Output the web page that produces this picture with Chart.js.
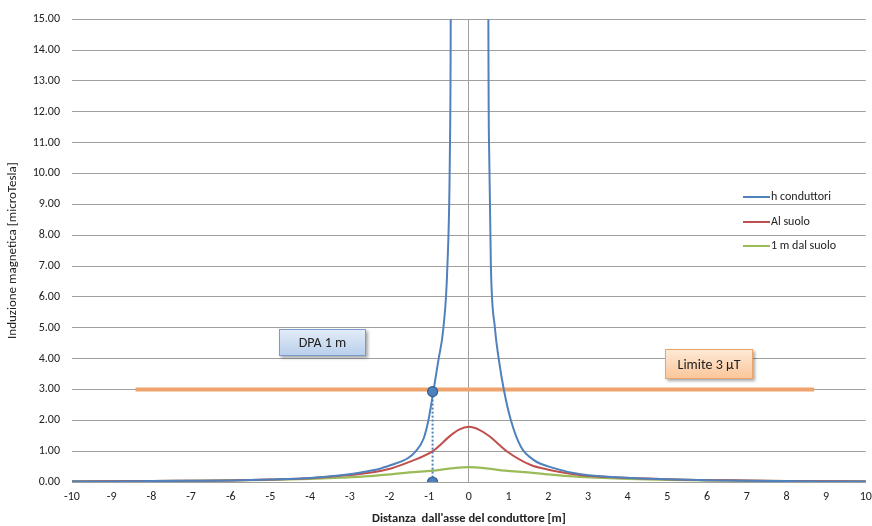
<!DOCTYPE html>
<html>
<head>
<meta charset="utf-8">
<script src="https://cdn.jsdelivr.net/npm/chart.js@4/dist/chart.umd.min.js"></script>
<style>
  html, body { margin:0; padding:0; background:#fff; }
  #wrap { position:relative; width:872px; height:526px; }
  canvas { position:absolute; left:0; top:0; }
  .box { position:absolute; box-sizing:border-box; font-family: Carlito, Lato, "Open Sans", sans-serif; font-size:14px; color:#222; display:flex; align-items:center; justify-content:center; box-shadow: 2px 2px 3px rgba(0,0,0,0.35); }
  #dpa { left:279px; top:329px; width:87px; height:27px; border:1px solid #7A9CCB; background:linear-gradient(#E3ECF8, #B9CFEB); }
  #lim { left:665px; top:349px; width:88px; height:30px; border:1px solid #E9A66A; background:linear-gradient(#FEE9D6, #FBC79A); }
</style>
</head>
<body>
<div id="wrap">
  <canvas id="c" width="872" height="526"></canvas>
  <div class="box" id="dpa">DPA 1 m</div>
  <div class="box" id="lim">Limite 3 µT</div>
</div>
<script>
// ---- data ----
const seriesNames = ["h conduttori", "Al suolo", "1 m dal suolo"];
const xTicks = [-10,-9,-8,-7,-6,-5,-4,-3,-2,-1,0,1,2,3,4,5,6,7,8,9,10];

const hCondX = [-10,-9,-8,-7,-6,-5,-4,-3.22,-2.72,-2.22,-1.965,-1.54,-1.335,-1.14,-1.02,-0.894,-0.768,-0.642,-0.542,-0.479,-0.458,-0.452, 0, 0.488,0.491,0.511,0.554,0.655,0.756,0.882,1.058,1.31,1.637,2.141,2.821,4.081,5,6,7,8,9,10];
const hCondY = [0.02,0.02,0.03,0.04,0.05,0.08,0.13,0.22,0.31,0.44,0.55,0.77,1.0,1.41,2.0,2.95,3.95,5.0,7.0,10.7,15.0,20, null, 20,15.0,10.7,7.0,5.0,3.95,2.98,2.0,1.14,0.71,0.45,0.25,0.13,0.09,0.06,0.04,0.03,0.02,0.02];

const suoloX = [-10,-8,-7,-6,-5,-4,-3.22,-2.5,-1.96,-1.5,-0.91,-0.45,-0.25,0,0.25,0.5,0.97,1.56,2.0,2.4,2.8,3.65,4.5,5,6,7,8,10];
const suoloY = [0.02,0.03,0.04,0.05,0.08,0.12,0.2,0.3,0.44,0.65,1.0,1.52,1.7,1.79,1.7,1.5,0.98,0.55,0.4,0.3,0.23,0.15,0.11,0.09,0.06,0.05,0.03,0.02];

const unoX = [-10,-8,-7,-6,-5,-4,-3.22,-2.5,-1.96,-1.5,-0.91,-0.45,0,0.45,0.91,1.5,1.96,2.5,3.22,4,5,6,7,8,10];
const unoY = [0.02,0.03,0.04,0.05,0.07,0.1,0.14,0.19,0.25,0.31,0.37,0.44,0.48,0.44,0.37,0.31,0.25,0.19,0.14,0.1,0.07,0.05,0.04,0.03,0.02];

const limitX = [-8.4, 8.7];
const limitY = [3, 3];

const dpaX = [-0.915, -0.915];
const dpaY = [2.93, 0];

const yMin = 0, yMax = 15, yStep = 1;

// ---- build ----
const pts = (xs, ys) => xs.map((x,i) => ({x:x, y:ys[i]}));
const FONT = 'Carlito, Lato, "Open Sans", sans-serif';

const colors = ["#4F81BD", "#C0504D", "#9BBB59"];

const legendPlugin = {
  id: 'customLegend',
  afterDraw(chart) {
    const ctx = chart.ctx;
    ctx.save();
    ctx.font = '12px ' + FONT;
    ctx.textBaseline = 'middle';
    ctx.fillStyle = '#222';
    const ys = [197, 222, 246];
    seriesNames.forEach((n, i) => {
      ctx.strokeStyle = colors[i];
      ctx.lineWidth = 2;
      ctx.beginPath();
      ctx.moveTo(743, ys[i]);
      ctx.lineTo(770, ys[i]);
      ctx.stroke();
      ctx.fillText(n, 771, ys[i]);
    });
    ctx.restore();
  }
};

new Chart(document.getElementById('c'), {
  type: 'line',
  data: {
    datasets: [
      { label: 'DPA', data: pts(dpaX, dpaY), borderColor: '#4F81BD', borderWidth: 2, borderDash: [2,2],
        pointRadius: 5, pointBackgroundColor: '#4F81BD', pointBorderColor: '#2F5E96', pointBorderWidth: 1.2, tension: 0 },
      { label: seriesNames[0], data: pts(hCondX, hCondY), borderColor: colors[0], borderWidth: 2, pointRadius: 0,
        cubicInterpolationMode: 'monotone', spanGaps: false },
      { label: seriesNames[1], data: pts(suoloX, suoloY), borderColor: colors[1], borderWidth: 2, pointRadius: 0,
        cubicInterpolationMode: 'monotone' },
      { label: seriesNames[2], data: pts(unoX, unoY), borderColor: colors[2], borderWidth: 2.2, pointRadius: 0,
        cubicInterpolationMode: 'monotone' },
      { label: 'Limite', data: pts(limitX, limitY), borderColor: '#EEA46C', borderWidth: 4, pointRadius: 0, tension: 0 }
    ]
  },
  options: {
    responsive: false,
    animation: false,
    layout: { padding: { left: 0, right: 6, top: 19, bottom: 0 } },
    plugins: { legend: { display: false }, tooltip: { enabled: false } },
    scales: {
      x: {
        type: 'linear', min: -10, max: 10,
        afterBuildTicks: (s) => { s.ticks = xTicks.map(v => ({value: v})); },
        afterFit: (s) => { s.height = 44; s.paddingLeft = 0; s.paddingRight = 0; },
        grid: { drawTicks: false, color: (c) => c.tick && c.tick.value === 0 ? '#A0A0A0' : 'rgba(0,0,0,0)', lineWidth: 1 },
        border: { display: true, color: '#A0A0A0' },
        ticks: { padding: 8, color: '#222', font: { family: FONT, size: 12 }, callback: (v) => String(v) },
        title: { display: true, text: "Distanza  dall'asse del conduttore [m]", color: '#222',
                 font: { family: FONT, size: 12.5, weight: 'bold' }, padding: { top: 2, bottom: 0 } }
      },
      y: {
        type: 'linear', min: yMin, max: yMax,
        ticks: { stepSize: yStep, padding: 12, color: '#222', font: { family: FONT, size: 12 }, callback: (v) => v.toFixed(2) },
        afterFit: (s) => { s.width = 72; },
        grid: { drawTicks: false, color: '#A0A0A0', lineWidth: 1 },
        border: { display: false },
        title: { display: true, text: 'Induzione magnetica [microTesla]', color: '#222',
                 font: { family: FONT, size: 13 }, padding: { top: 5, bottom: 0 } }
      }
    }
  },
  plugins: [legendPlugin]
});
</script>
</body>
</html>
